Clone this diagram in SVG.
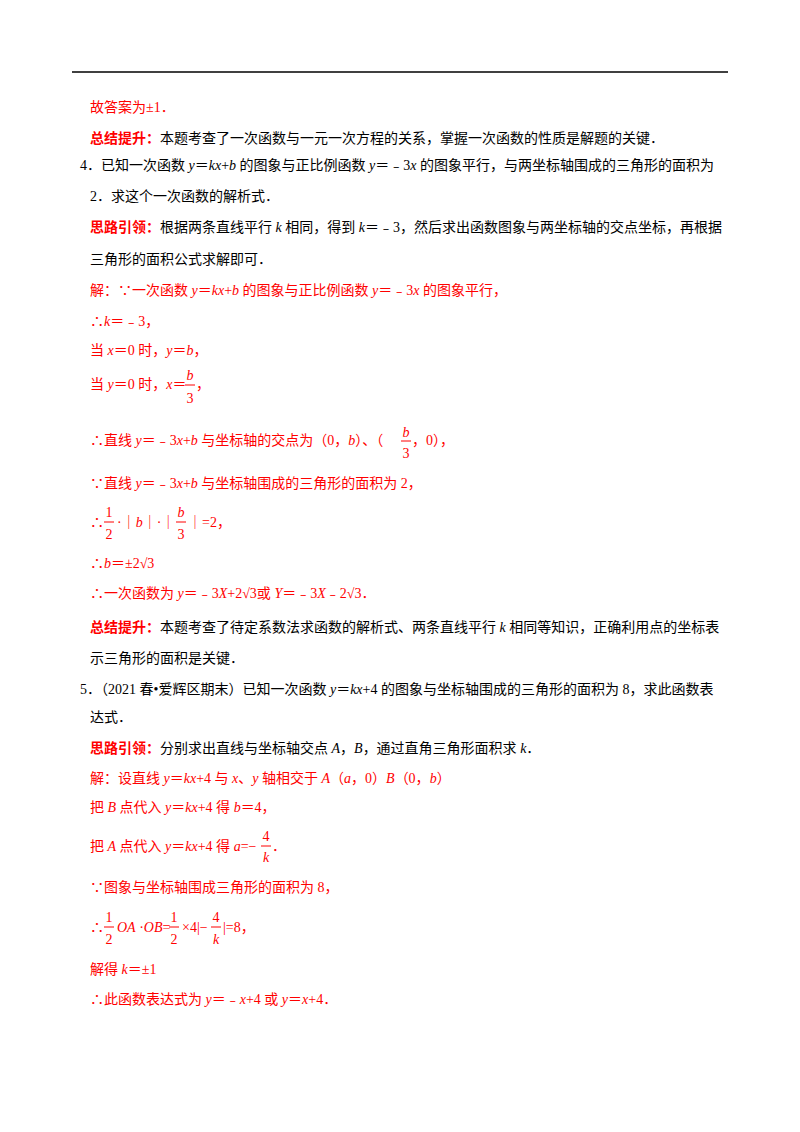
<svg xmlns="http://www.w3.org/2000/svg" width="800" height="1132" viewBox="0 0 800 1132">
<style>
text{font-family:"Liberation Serif","Noto Sans CJK SC",serif;font-size:14px;fill:#000}
.r{fill:#ff0000}
.b{font-weight:bold}
.i{font-style:italic}
.fl{stroke:#ff0000;stroke-width:1}
</style>
<rect width="800" height="1132" fill="#fff"/>
<line x1="72" y1="72" x2="728" y2="72" stroke="#000" stroke-width="1.5"/>
<text x="90" y="112" class="r">故答案为±1．</text>
<text x="90" y="143"><tspan class="r b">总结提升：</tspan>本题考查了一次函数与一元一次方程的关系，掌握一次函数的性质是解题的关键．</text>
<text x="80" y="170">4．已知一次函数 <tspan class="i">y</tspan>＝<tspan class="i">kx</tspan>+<tspan class="i">b</tspan> 的图象与正比例函数 <tspan class="i">y</tspan>＝﹣3<tspan class="i">x</tspan> 的图象平行，与两坐标轴围成的三角形的面积为</text>
<text x="90" y="201">2．求这个一次函数的解析式．</text>
<text x="90" y="232"><tspan class="r b">思路引领：</tspan>根据两条直线平行 <tspan class="i">k</tspan> 相同，得到 <tspan class="i">k</tspan>＝﹣3，然后求出函数图象与两坐标轴的交点坐标，再根据</text>
<text x="90" y="264">三角形的面积公式求解即可．</text>
<text x="90" y="295" class="r">解：∵一次函数 <tspan class="i">y</tspan>＝<tspan class="i">kx</tspan>+<tspan class="i">b</tspan> 的图象与正比例函数 <tspan class="i">y</tspan>＝﹣3<tspan class="i">x</tspan> 的图象平行，</text>
<text x="90" y="326" class="r">∴<tspan class="i">k</tspan>＝﹣3，</text>
<text x="90" y="355" class="r">当 <tspan class="i">x</tspan>＝0 时，<tspan class="i">y</tspan>＝<tspan class="i">b</tspan>，</text>
<g>
<text x="90" y="389" class="r">当 <tspan class="i">y</tspan>＝0 时，<tspan class="i">x</tspan>＝</text>
<text x="190" y="380" class="r i" text-anchor="middle">b</text>
<line x1="185" y1="385" x2="195" y2="385" class="fl"/>
<text x="190" y="403" class="r" text-anchor="middle">3</text>
<text x="196" y="389" class="r">，</text>
</g>
<g>
<text x="90" y="445" class="r">∴直线 <tspan class="i">y</tspan>＝﹣3<tspan class="i">x</tspan>+<tspan class="i">b</tspan> 与坐标轴的交点为（0，<tspan class="i">b</tspan>）、（</text>
<text x="406" y="437" class="r i" text-anchor="middle">b</text>
<line x1="401" y1="441" x2="411" y2="441" class="fl"/>
<text x="406" y="458" class="r" text-anchor="middle">3</text>
<text x="412" y="445" class="r">，0），</text>
</g>
<text x="90" y="488" class="r">∵直线 <tspan class="i">y</tspan>＝﹣3<tspan class="i">x</tspan>+<tspan class="i">b</tspan> 与坐标轴围成的三角形的面积为 2，</text>
<g>
<text x="90" y="527" class="r">∴</text>
<text x="109" y="517" class="r" text-anchor="middle">1</text>
<line x1="104" y1="522" x2="114" y2="522" class="fl"/>
<text x="109" y="539" class="r" text-anchor="middle">2</text>
<text x="117" y="527" class="r">·｜<tspan class="i">b</tspan>｜·｜</text>
<text x="181" y="517" class="r i" text-anchor="middle">b</text>
<line x1="176" y1="522" x2="186" y2="522" class="fl"/>
<text x="181" y="539" class="r" text-anchor="middle">3</text>
<text x="188" y="527" class="r">｜=2，</text>
</g>
<text x="90" y="568" class="r">∴<tspan class="i">b</tspan>＝±2√3</text>
<text x="90" y="598" class="r">∴一次函数为 <tspan class="i">y</tspan>＝﹣3<tspan class="i">X</tspan>+2√3或 <tspan class="i">Y</tspan>＝﹣3<tspan class="i">X</tspan>﹣2√3．</text>
<text x="90" y="632"><tspan class="r b">总结提升：</tspan>本题考查了待定系数法求函数的解析式、两条直线平行 <tspan class="i">k</tspan> 相同等知识，正确利用点的坐标表</text>
<text x="90" y="663">示三角形的面积是关键．</text>
<text x="80" y="694">5．（2021 春•爱辉区期末）已知一次函数 <tspan class="i">y</tspan>＝<tspan class="i">kx</tspan>+4 的图象与坐标轴围成的三角形的面积为 8，求此函数表</text>
<text x="90" y="722">达式．</text>
<text x="90" y="753"><tspan class="r b">思路引领：</tspan>分别求出直线与坐标轴交点 <tspan class="i">A</tspan>，<tspan class="i">B</tspan>，通过直角三角形面积求 <tspan class="i">k</tspan>．</text>
<text x="90" y="783" class="r">解：设直线 <tspan class="i">y</tspan>＝<tspan class="i">kx</tspan>+4 与 <tspan class="i">x</tspan>、<tspan class="i">y</tspan> 轴相交于 <tspan class="i">A</tspan>（<tspan class="i">a</tspan>，0）<tspan class="i">B</tspan>（0，<tspan class="i">b</tspan>）</text>
<text x="90" y="812" class="r">把 <tspan class="i">B</tspan> 点代入 <tspan class="i">y</tspan>＝<tspan class="i">kx</tspan>+4 得 <tspan class="i">b</tspan>＝4，</text>
<g>
<text x="90" y="851" class="r">把 <tspan class="i">A</tspan> 点代入 <tspan class="i">y</tspan>＝<tspan class="i">kx</tspan>+4 得 <tspan class="i">a</tspan>=−</text>
<text x="266" y="841" class="r" text-anchor="middle">4</text>
<line x1="261" y1="846" x2="271" y2="846" class="fl"/>
<text x="266" y="862" class="r i" text-anchor="middle">k</text>
<text x="272" y="851" class="r">．</text>
</g>
<text x="90" y="892" class="r">∵图象与坐标轴围成三角形的面积为 8，</text>
<g>
<text x="90" y="932" class="r">∴</text>
<text x="109" y="922" class="r" text-anchor="middle">1</text>
<line x1="104" y1="927" x2="114" y2="927" class="fl"/>
<text x="109" y="944" class="r" text-anchor="middle">2</text>
<text x="117" y="932" class="r i">OA<tspan font-style="normal"> ·</tspan>OB<tspan font-style="normal">=</tspan></text>
<text x="174" y="922" class="r" text-anchor="middle">1</text>
<line x1="169" y1="927" x2="179" y2="927" class="fl"/>
<text x="174" y="944" class="r" text-anchor="middle">2</text>
<text x="182" y="932" class="r">×4|−</text>
<text x="216" y="922" class="r" text-anchor="middle">4</text>
<line x1="211" y1="927" x2="221" y2="927" class="fl"/>
<text x="216" y="944" class="r i" text-anchor="middle">k</text>
<text x="223" y="932" class="r">|=8，</text>
</g>
<text x="90" y="974" class="r">解得 <tspan class="i">k</tspan>＝±1</text>
<text x="90" y="1004" class="r">∴此函数表达式为 <tspan class="i">y</tspan>＝﹣<tspan class="i">x</tspan>+4 或 <tspan class="i">y</tspan>＝<tspan class="i">x</tspan>+4．</text>
</svg>
